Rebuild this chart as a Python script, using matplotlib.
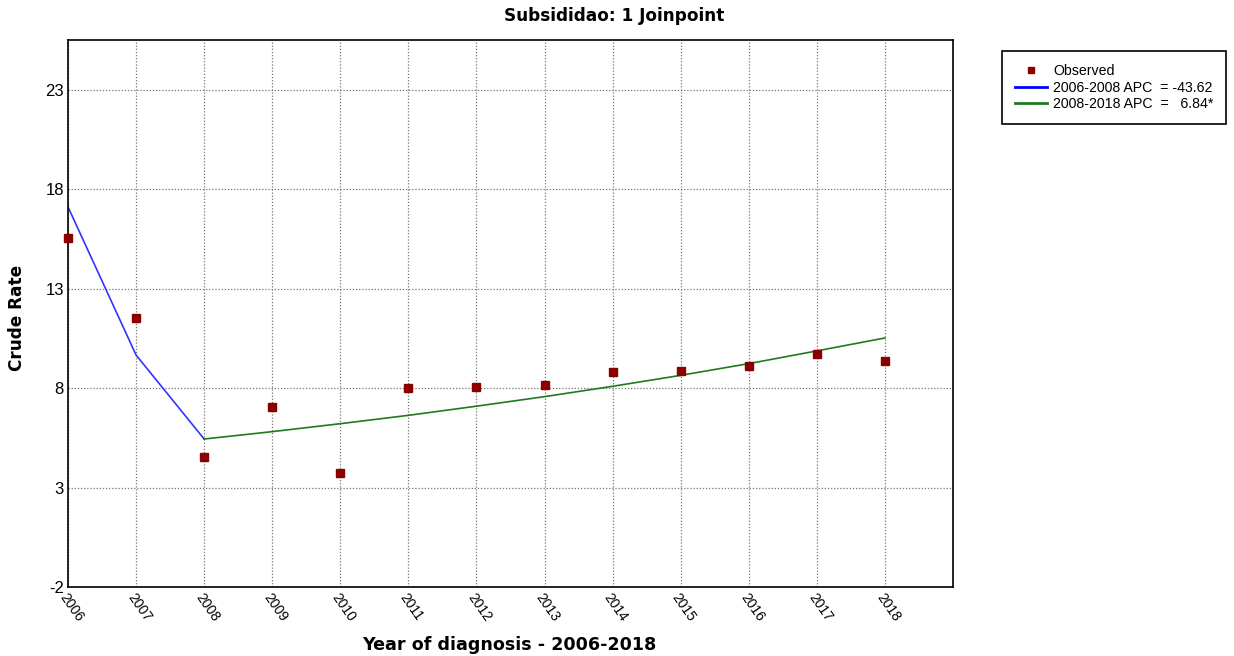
import matplotlib
matplotlib.use("Agg")
import matplotlib.pyplot as plt
from matplotlib.lines import Line2D

# observed crude rates per year
years = [2006, 2007, 2008, 2009, 2010, 2011, 2012, 2013, 2014, 2015, 2016, 2017, 2018]
observed = [15.56, 11.53, 4.54, 7.05, 3.73, 8.01, 8.06, 8.16, 8.81, 8.87, 9.12, 9.72, 9.37]

# joinpoint model segments
seg1_years = [2006, 2007, 2008]
seg1_fit = [17.11, 9.66, 5.44]
seg2_years = [2008, 2009, 2010, 2011, 2012, 2013, 2014, 2015, 2016, 2017, 2018]
seg2_fit = [5.44, 5.81, 6.21, 6.63, 7.09, 7.57, 8.09, 8.64, 9.23, 9.87, 10.52]

yticks = [-2, 3, 8, 13, 18, 23]

fig = plt.figure(figsize=(12.34, 6.56), dpi=100)
ax = fig.add_axes([0.0551, 0.1052, 0.7172, 0.8338])

ax.plot(seg1_years, seg1_fit, color="#3333ff", lw=1.2, zorder=2)
ax.plot(seg2_years, seg2_fit, color="#1f7a1f", lw=1.2, zorder=2)
ax.plot(years, observed, ls="none", marker="s", ms=6, color="#8b0000", zorder=3, clip_on=False)

ax.set_xlim(2006, 2019)
ax.set_ylim(-2, 25.5)
ax.set_xticks(years)
ax.set_yticks(yticks)
ax.set_xticklabels([str(y) for y in years], rotation=-55, ha="left", va="top",
                   rotation_mode="anchor", fontsize=10, family="Liberation Sans")
ax.set_yticklabels([str(t) for t in yticks], fontsize=12, family="Liberation Sans")
ax.tick_params(length=0, pad=3)
ax.grid(True, color="#777777", ls=(0, (1, 1.5)), lw=0.9)
for s in ax.spines.values():
    s.set_linewidth(1.2)
    s.set_color("black")

fig.text(0.498, 0.975, "Subsididao: 1 Joinpoint", ha="center", va="center",
         fontsize=12.2, fontweight="bold", family="DejaVu Sans")
fig.text(0.014, 0.515, "Crude Rate", rotation=90, ha="center", va="center",
         fontsize=12.2, fontweight="bold", family="DejaVu Sans")
fig.text(0.413, 0.017, "Year of diagnosis - 2006-2018", ha="center", va="center",
         fontsize=12.6, fontweight="bold", family="DejaVu Sans")

handles = [
    Line2D([], [], ls="none", marker="s", ms=5, color="#8b0000"),
    Line2D([], [], color="blue", lw=2),
    Line2D([], [], color="#1f7a1f", lw=2),
]
labels = ["Observed", "2006-2008 APC  = -43.62", "2008-2018 APC  =   6.84*"]
leg = fig.legend(handles, labels, loc="upper left", bbox_to_anchor=(1002 / 1234, 1 - 51 / 656),
                 borderaxespad=0, fancybox=False, edgecolor="black", framealpha=1,
                 borderpad=0.9, handlelength=2.3, handletextpad=0.4, labelspacing=0.2,
                 prop={"family": "Liberation Sans", "size": 10.2})
leg.get_frame().set_linewidth(1.2)

fig.savefig("out.png", dpi=100)
